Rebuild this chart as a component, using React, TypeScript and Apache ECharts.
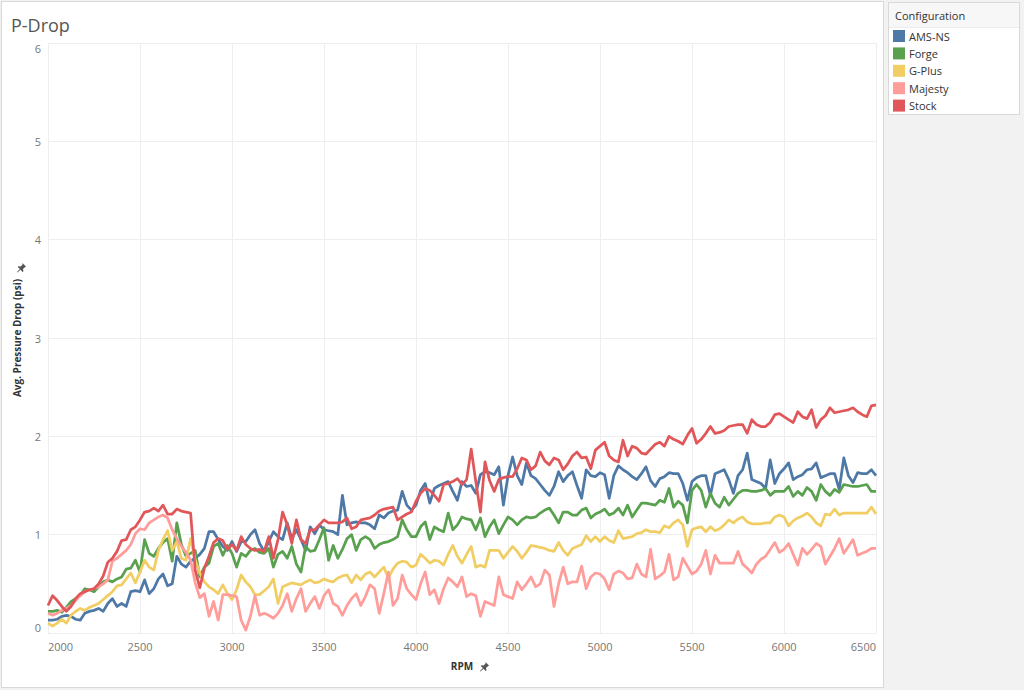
import React, { useEffect, useRef } from "react";
import * as echarts from "echarts";

// RPM grid: readings every 25 RPM from 2000 to 6500
const rpmStart = 2000;
const rpmStep = 25;

const amsNs = [
  0.13,0.13,0.14,0.17,0.18,0.17,0.14,0.13,0.20,0.22,0.23,0.25,0.22,0.30,0.35,0.27,0.30,0.27,0.42,0.43,0.42,0.54,0.40,0.45,
  0.55,0.60,0.48,0.50,0.78,0.70,0.67,0.73,0.76,0.80,0.86,1.03,1.03,0.95,0.88,0.84,0.93,0.83,0.93,0.93,1.00,1.05,
  0.91,0.83,0.93,1.03,0.98,0.95,1.12,0.96,1.05,0.95,0.84,1.08,1.01,1.10,1.05,1.04,1.03,1.00,1.40,1.10,1.12,1.13,1.12,
  1.12,1.10,1.06,1.20,1.17,1.22,1.24,1.25,1.44,1.30,1.25,1.30,1.45,1.52,1.32,1.47,1.50,1.52,1.54,1.44,1.35,1.54,1.49,
  1.50,1.42,1.61,1.64,1.63,1.61,1.69,1.30,1.60,1.79,1.60,1.51,1.73,1.60,1.57,1.51,1.45,1.40,1.49,1.64,1.54,1.60,1.64,
  1.50,1.37,1.66,1.60,1.59,1.63,1.61,1.37,1.60,1.70,1.66,1.63,1.59,1.56,1.62,1.69,1.55,1.49,1.57,1.59,1.63,1.62,1.62,
  1.52,1.35,1.54,1.58,1.60,1.60,1.40,1.62,1.64,1.66,1.56,1.42,1.60,1.66,1.83,1.56,1.54,1.52,1.47,1.76,1.52,
  1.62,1.67,1.73,1.56,1.59,1.61,1.66,1.67,1.73,1.58,1.60,1.62,1.62,1.46,1.78,1.60,1.53,1.63,1.62,1.62,1.66,1.60,
];

const forge = [
  0.22,0.22,0.23,0.21,0.26,0.32,0.35,0.38,0.45,0.44,0.42,0.47,0.52,0.54,0.52,0.55,0.57,0.65,0.66,0.74,0.62,0.95,0.81,0.78,
  0.86,0.92,0.96,0.73,1.12,0.90,0.78,0.81,0.84,0.57,0.67,0.71,0.88,0.91,0.79,0.89,0.81,0.67,0.81,0.78,0.84,0.86,
  0.82,0.81,0.86,0.67,0.80,0.83,0.76,0.88,0.70,0.62,0.88,0.83,0.84,0.95,1.07,0.74,0.89,0.76,0.85,0.96,1.00,0.84,0.95,
  0.98,0.95,0.86,0.90,0.92,0.93,0.95,0.98,1.15,1.05,0.98,0.98,1.08,1.13,0.95,1.08,1.05,1.03,1.22,1.05,1.10,1.18,1.16,
  1.15,1.05,1.17,0.98,1.08,1.15,1.01,1.10,1.18,1.15,1.10,1.15,1.18,1.17,1.18,1.22,1.25,1.27,1.20,1.12,1.23,1.23,1.20,
  1.20,1.25,1.27,1.17,1.21,1.23,1.26,1.20,1.22,1.27,1.20,1.30,1.18,1.25,1.32,1.32,1.31,1.30,1.35,1.33,1.47,1.28,1.34,
  1.30,1.12,1.45,1.51,1.45,1.28,1.42,1.32,1.28,1.38,1.30,1.36,1.42,1.45,1.45,1.44,1.44,1.45,1.47,1.40,1.44,
  1.44,1.44,1.49,1.39,1.44,1.40,1.48,1.44,1.35,1.51,1.44,1.40,1.46,1.43,1.51,1.50,1.49,1.49,1.50,1.51,1.44,1.44,
];

const gPlus = [
  0.10,0.07,0.10,0.14,0.10,0.18,0.22,0.25,0.23,0.26,0.28,0.30,0.34,0.38,0.42,0.48,0.49,0.55,0.61,0.51,0.62,0.74,0.67,0.64,
  0.84,0.95,1.04,0.84,0.93,0.76,0.74,0.96,0.74,0.61,0.52,0.47,0.44,0.40,0.49,0.40,0.34,0.44,0.59,0.52,0.47,0.39,
  0.39,0.43,0.47,0.55,0.30,0.47,0.49,0.51,0.50,0.49,0.52,0.54,0.51,0.52,0.55,0.53,0.52,0.56,0.58,0.59,0.51,0.59,0.54,
  0.60,0.62,0.57,0.62,0.67,0.56,0.65,0.71,0.73,0.72,0.67,0.69,0.80,0.76,0.71,0.74,0.73,0.69,0.80,0.89,0.78,0.71,0.80,
  0.88,0.67,0.69,0.67,0.84,0.84,0.84,0.76,0.82,0.88,0.83,0.76,0.82,0.89,0.88,0.87,0.86,0.84,0.83,0.92,0.84,0.79,0.86,
  0.88,0.90,0.99,0.93,0.98,0.93,0.98,0.94,0.92,1.04,0.96,0.97,0.98,1.01,1.02,1.05,1.03,1.03,1.02,1.09,1.07,1.12,1.15,
  1.10,0.88,1.05,1.07,1.08,1.03,1.08,1.04,1.06,1.10,1.15,1.12,1.16,1.18,1.13,1.11,1.11,1.11,1.12,1.12,1.18,
  1.20,1.18,1.09,1.14,1.17,1.19,1.22,1.18,1.12,1.09,1.21,1.20,1.26,1.20,1.22,1.22,1.22,1.22,1.22,1.22,1.28,1.21,
];

const majesty = [
  0.20,0.18,0.20,0.23,0.25,0.28,0.33,0.38,0.42,0.44,0.45,0.47,0.50,0.54,0.73,0.76,0.80,0.84,0.90,1.01,1.06,1.05,1.12,1.15,
  1.18,1.20,1.17,1.05,0.96,0.88,0.82,0.74,0.51,0.36,0.40,0.17,0.32,0.13,0.39,0.39,0.38,0.37,0.13,0.03,0.17,0.38,
  0.18,0.20,0.18,0.15,0.20,0.28,0.40,0.22,0.35,0.45,0.22,0.30,0.37,0.25,0.38,0.44,0.30,0.27,0.18,0.28,0.35,0.40,0.28,
  0.37,0.49,0.45,0.20,0.40,0.62,0.28,0.35,0.59,0.45,0.39,0.34,0.50,0.62,0.39,0.44,0.30,0.45,0.56,0.52,0.47,0.57,0.37,
  0.40,0.38,0.17,0.32,0.30,0.28,0.57,0.39,0.37,0.35,0.52,0.44,0.50,0.57,0.47,0.50,0.64,0.59,0.27,0.50,0.67,0.50,0.52,
  0.52,0.68,0.45,0.57,0.61,0.60,0.55,0.44,0.60,0.63,0.61,0.55,0.56,0.70,0.60,0.57,0.85,0.55,0.58,0.62,0.80,0.54,0.57,
  0.76,0.68,0.60,0.63,0.70,0.84,0.60,0.79,0.71,0.71,0.71,0.71,0.83,0.70,0.66,0.61,0.70,0.75,0.78,0.85,0.92,
  0.82,0.85,0.91,0.80,0.69,0.86,0.80,0.85,0.91,0.88,0.70,0.78,0.86,0.96,0.81,0.88,0.95,0.79,0.81,0.83,0.86,0.86,
];

const stock = [
  0.28,0.38,0.33,0.27,0.22,0.27,0.35,0.40,0.42,0.44,0.45,0.50,0.58,0.72,0.76,0.83,0.94,0.95,1.05,1.08,1.15,1.23,1.24,1.27,
  1.24,1.30,1.21,1.21,1.26,1.24,1.23,1.22,0.64,0.46,0.66,0.78,0.92,0.96,0.94,0.85,0.90,0.84,0.98,0.90,0.86,0.84,
  0.85,0.83,0.98,0.76,0.95,1.23,1.10,0.91,1.15,0.95,0.91,1.05,1.05,1.10,1.15,1.12,1.12,1.12,1.13,1.17,1.06,1.08,1.15,
  1.16,1.17,1.20,1.24,1.26,1.27,1.28,1.15,1.18,1.21,1.23,1.34,1.42,1.47,1.45,1.40,1.34,1.51,1.52,1.54,1.57,1.51,1.56,
  1.87,1.54,1.23,1.74,1.55,1.44,1.56,1.58,1.59,1.59,1.67,1.78,1.76,1.66,1.70,1.84,1.75,1.71,1.78,1.76,1.66,1.72,1.80,
  1.84,1.78,1.79,1.67,1.86,1.90,1.94,1.80,1.76,1.74,1.96,1.80,1.90,1.88,1.83,1.82,1.87,1.92,1.94,1.90,2.00,1.97,1.95,
  1.92,2.01,2.08,1.93,1.97,2.03,2.10,2.03,2.04,2.06,2.10,2.11,2.12,2.12,2.03,2.17,2.12,2.10,2.10,2.14,2.22,
  2.23,2.20,2.17,2.14,2.25,2.20,2.18,2.27,2.09,2.17,2.21,2.29,2.24,2.25,2.26,2.27,2.29,2.25,2.22,2.20,2.31,2.32,
];

const seriesNames = ["AMS-NS", "Forge", "G-Plus", "Majesty", "Stock"];
const seriesValues = [amsNs, forge, gPlus, majesty, stock];
const seriesColors = ["#4e79a7", "#59a14f", "#f1ce63", "#ff9d9a", "#e15759"];

const xTicks = { min: 2000, max: 6500, interval: 500 };
const yTicks = { min: 0, max: 6, interval: 1 };

const FONT = "'Open Sans', 'Noto Sans', sans-serif";
const PIN_PATH =
  "M6 0 L10 4 L8.8 4.6 L6.6 6.8 L7.2 9.2 L6.2 10 L3.8 7.6 L0.6 10.6 L0 10 L3.2 6.8 L0.8 4.4 L1.6 3.6 L4 4 L6.2 1.8 Z";

let pinRegistered = false;

export default function App() {
  const ref = useRef<HTMLDivElement>(null);

  useEffect(() => {
    if (!ref.current) return;
    if (!pinRegistered) {
      echarts.graphic.registerShape("pin", echarts.graphic.extendPath(PIN_PATH, {}));
      pinRegistered = true;
    }
    const chart = echarts.init(ref.current, null, { renderer: "svg" });
    const series = seriesNames.map((name, k) => ({
      name,
      type: "line",
      showSymbol: false,
      symbol: "none",
      data: seriesValues[k].map((v, i) => [rpmStart + rpmStep * i, v]),
      lineStyle: { width: 2.75, color: seriesColors[k], join: "round" },
      itemStyle: { color: seriesColors[k] },
      emphasis: { disabled: true },
    }));
    chart.setOption({
      animation: false,
      backgroundColor: "transparent",
      textStyle: { fontFamily: FONT },
      grid: { left: 48, right: 148, top: 43, bottom: 57, containLabel: false },
      legend: {
        data: seriesNames,
        orient: "vertical",
        left: 893,
        top: 30,
        padding: 0,
        itemWidth: 12,
        itemHeight: 12,
        itemGap: 5.4,
        icon: "rect",
        selectedMode: false,
        textStyle: { fontSize: 11, color: "#333", fontFamily: FONT, padding: [0, 0, 0, -1] },
      },
      xAxis: {
        type: "value",
        min: xTicks.min,
        max: xTicks.max,
        interval: xTicks.interval,
        axisLine: { show: false },
        axisTick: { show: false },
        splitLine: { show: true, lineStyle: { color: "#eeeeee", width: 1 } },
        axisLabel: {
          color: "#777",
          fontSize: 11,
          fontFamily: FONT,
          margin: 8,
          alignMinLabel: "left",
          alignMaxLabel: "right",
          formatter: (v: number) => String(v),
        },
        name: "RPM",
        nameLocation: "middle",
        nameGap: 28,
        nameTextStyle: { fontSize: 10, fontWeight: "bold", color: "#333", fontFamily: FONT },
      },
      yAxis: {
        type: "value",
        min: yTicks.min,
        max: yTicks.max,
        interval: yTicks.interval,
        axisLine: { show: false },
        axisTick: { show: false },
        splitLine: { show: true, lineStyle: { color: "#eeeeee", width: 1 } },
        axisLabel: {
          color: "#777",
          fontSize: 11,
          fontFamily: FONT,
          margin: 7,
          verticalAlignMinLabel: "bottom",
          verticalAlignMaxLabel: "top",
        },
        name: "Avg. Pressure Drop (psi)",
        nameLocation: "middle",
        nameGap: 26,
        nameRotate: 90,
        nameTextStyle: { fontSize: 10, fontWeight: "bold", color: "#333", fontFamily: FONT },
      },
      graphic: [
        {
          type: "text",
          x: 11,
          y: 25,
          style: { text: "P-Drop", fill: "#555", fontSize: 18, fontFamily: FONT, verticalAlign: "middle" },
        },
        {
          type: "text",
          x: 895,
          y: 15,
          style: { text: "Configuration", fill: "#333", fontSize: 11, fontFamily: FONT, verticalAlign: "middle" },
        },
        {
          type: "pin",
          x: 17,
          y: 263,
          scaleX: 0.9,
          scaleY: 0.9,
          style: { fill: "#555" },
        },
        {
          type: "pin",
          x: 480,
          y: 662,
          scaleX: 0.9,
          scaleY: 0.9,
          style: { fill: "#555" },
        },
      ],
      series,
    });
    return () => chart.dispose();
  }, []);

  return (
    <div
      style={{
        position: "fixed",
        left: 0,
        top: 0,
        width: 1024,
        height: 690,
        background: "#f2f2f2",
        overflow: "hidden",
      }}
    >
      <div
        style={{
          position: "absolute",
          left: 1,
          top: 1,
          width: 881,
          height: 685,
          background: "#ffffff",
          border: "1px solid #d9d9d9",
        }}
      />
      <div
        style={{
          position: "absolute",
          left: 888,
          top: 2,
          width: 130,
          height: 111,
          background: "#ffffff",
          border: "1px solid #d9d9d9",
        }}
      >
        <div style={{ height: 24, background: "#f7f7f7", borderBottom: "1px solid #ececec" }} />
      </div>
      <div ref={ref} style={{ position: "absolute", left: 0, top: 0, width: 1024, height: 690 }} />
    </div>
  );
}
